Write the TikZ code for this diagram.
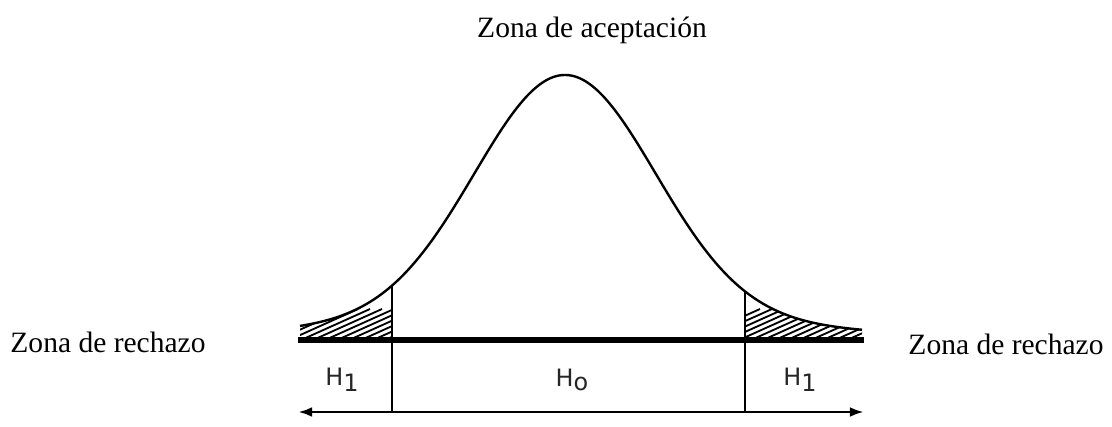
\documentclass[tikz,border=0pt]{standalone}
\usepackage{fontspec}
\setmainfont{Liberation Serif}
\newfontfamily\hfont{DejaVu Sans}
\usetikzlibrary{positioning,arrows.meta}

\begin{document}
\begin{tikzpicture}[
            x=0.025cm, y=-0.025cm,
            curve/.style={line width=1.7pt},
            base/.style={line width=4pt},
            bar/.style={line width=1.6pt},
            hatch/.style={line width=1.3pt},
            axis/.style={line width=2.1pt, {Latex[length=10pt,width=7pt]}-{Latex[length=10pt,width=7pt]}},
            lbl/.style={font=\fontsize{21}{25}\selectfont, inner sep=0pt},
            hyp/.style={font=\hfont\fontsize{17}{20}\selectfont, inner sep=0pt, text=black!85}
        ]
        \useasboundingbox (0,0) rectangle (1112,427);
        \def\bell#1{340-265*(0.92*exp(-((#1-565)/90)^2/2)+0.08*exp(-((#1-565)/230)^2/2))}

        % Labels
        \node[lbl] (acc) at (592,30)  {Zona de aceptación};
        \node[lbl] (rl)  at (108,342) {Zona de rechazo};
        \node[lbl] (rr)  at (1006,344) {Zona de rechazo};

        % Rejection tails (hatched)
        \begin{scope}
            \clip plot[domain=300:392, samples=40] (\x,{\bell{\x}}) -- (392,340) -- (300,340) -- cycle;
            \foreach \k in {0,...,12}
                \draw[hatch] (230+\k*12,345) -- ++(80,-36);
        \end{scope}
        \begin{scope}
            \clip plot[domain=745:862, samples=40] (\x,{\bell{\x}}) -- (862,340) -- (745,340) -- cycle;
            \foreach \k in {0,...,14}
                \draw[hatch] (680+\k*12,345) -- ++(80,-36);
        \end{scope}

        % Density curve
        \draw[curve] plot[domain=300:862, samples=160, smooth] (\x,{\bell{\x}});

        % Boundary points
        \coordinate (bl) at (298,340);
        \coordinate (br) at (864,340);
        \coordinate (cl) at (392,{\bell{392}});
        \coordinate (cr) at (745,{\bell{745}});
        \coordinate (al) at (298,412);
        \coordinate (ar) at (864,412);
        \coordinate (dl) at (392,412);
        \coordinate (dr) at (745,412);

        % Base line, critical values and axis
        \draw[base] (bl) -- (br);
        \draw[bar] (cl) -- (dl);
        \draw[bar] (cr) -- (dr);
        \draw[axis] (al) -- (ar);

        % Hypotheses
        \node[hyp] (h1l) at (342,380) {H\raisebox{-0.45ex}{1}};
        \node[hyp] (h0)  at (572,380) {H\raisebox{-0.35ex}{o}};
        \node[hyp] (h1r) at (800,380) {H\raisebox{-0.45ex}{1}};
    \end{tikzpicture}
\end{document}
